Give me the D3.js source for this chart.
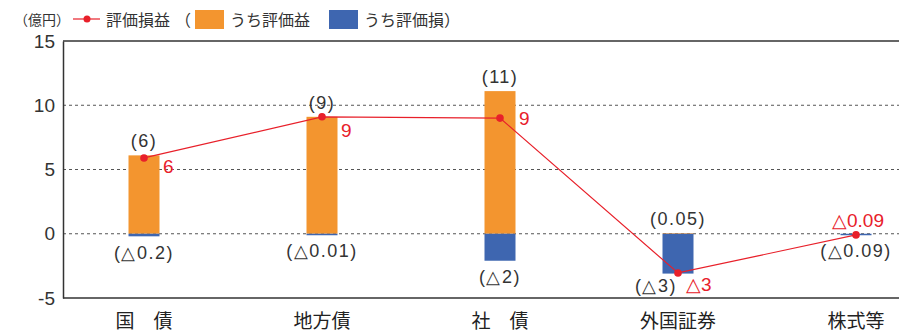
<!DOCTYPE html>
<html><head><meta charset="utf-8">
<script src="https://cdn.jsdelivr.net/npm/d3@7/dist/d3.min.js"></script>
<style>
body{margin:0;background:#fff;}
svg{display:block;font-family:"Noto Sans CJK JP","Noto Sans",sans-serif;}
</style></head>
<body><svg id="c" width="899" height="332"></svg>
<script>
const categories = ["国　債", "地方債", "社　債", "外国証券", "株式等"];
const gains  = [6.1, 9.1, 11.1, 0.05, 0];
const losses = [-0.2, -0.01, -2.1, -3.1, -0.09];
const nets   = [5.9, 9.1, 9.0, -3.05, -0.09];
const gainLabels = ["(6)", "(9)", "(11)", "(0.05)", ""];
const lossLabels = ["(△0.2)", "(△0.01)", "(△2)", "(△3)", "(△0.09)"];
const netLabels  = ["6", "9", "9", "△3", "△0.09"];
const yTicks = [-5, 0, 5, 10, 15];

(function () {
const svg = d3.select("#c");
const pL = 63, pR = 899, pT = 41, pB = 298;
const ORANGE = "#F3952F", BLUE = "#3E66B0", RED = "#E8202A", INK = "#333";

const y = d3.scaleLinear().domain([-5, 15]).range([pB, pT]);
const x = d3.scalePoint().domain(categories).range([144, 856]);
const bw = 31;

// gridlines
svg.append("g").selectAll("line").data(yTicks.filter(t => t > -5 && t < 15)).join("line")
  .attr("x1", pL).attr("x2", pR).attr("y1", d => y(d)).attr("y2", d => y(d))
  .attr("stroke", "#555").attr("stroke-width", 1).attr("stroke-dasharray", "3,3");
// top and bottom frame lines
svg.append("g").selectAll("line").data([15, -5]).join("line")
  .attr("x1", pL).attr("x2", pR).attr("y1", d => y(d)).attr("y2", d => y(d))
  .attr("stroke", INK).attr("stroke-width", 1.5);

// y axis
const yAxis = d3.axisLeft(y).tickValues(yTicks).tickSize(0).tickPadding(8).tickFormat(d => String(d));
const ga = svg.append("g").attr("transform", `translate(${pL},0)`).call(yAxis);
ga.select(".domain").attr("stroke", INK).attr("stroke-width", 1.5);
ga.selectAll("text").attr("font-family", "'Liberation Sans',Arial,sans-serif")
  .attr("font-size", 19).attr("fill", INK);

// bars
svg.append("g").selectAll("rect").data(categories).join("rect")
  .attr("x", d => x(d) - bw / 2).attr("width", bw)
  .attr("y", (d, i) => y(gains[i])).attr("height", (d, i) => y(0) - y(gains[i]))
  .attr("fill", ORANGE);
svg.append("g").selectAll("rect").data(categories).join("rect")
  .attr("x", d => x(d) - bw / 2).attr("width", bw)
  .attr("y", y(0)).attr("height", (d, i) => Math.max(1.5, y(losses[i]) - y(0)))
  .attr("fill", BLUE);

// net line
const line = d3.line().x((d, i) => x(categories[i])).y(d => y(d));
svg.append("path").datum(nets).attr("d", line).attr("fill", "none")
  .attr("stroke", RED).attr("stroke-width", 1.2);
svg.append("g").selectAll("circle").data(nets).join("circle")
  .attr("cx", (d, i) => x(categories[i])).attr("cy", d => y(d)).attr("r", 3.8).attr("fill", RED);

const numFont = "'Liberation Sans',Arial,sans-serif";
// gain labels
svg.append("g").selectAll("text").data(gainLabels).join("text")
  .attr("x", (d, i) => x(categories[i])).attr("y", (d, i) => y(gains[i]) - 8)
  .attr("text-anchor", "middle").attr("font-family", numFont).attr("font-size", 18)
  .attr("letter-spacing", 1.5).attr("fill", INK)
  .text(d => d);
// loss labels
const lossPlace = [[0, 23], [0, 23], [0, 22], [-22, 18], [0, 22]];
svg.append("g").selectAll("text").data(lossLabels).join("text")
  .attr("x", (d, i) => x(categories[i]) + lossPlace[i][0]).attr("y", (d, i) => y(losses[i]) + lossPlace[i][1])
  .attr("text-anchor", "middle").attr("font-family", numFont).attr("font-size", 18)
  .attr("letter-spacing", 1.5).attr("fill", INK)
  .text(d => d);
// net labels
const netPlace = [[19, 15, "start"], [19, 20, "start"], [19, 7, "start"], [8, 18, "start"], [2, -8, "middle"]];
svg.append("g").selectAll("text").data(netLabels).join("text")
  .attr("x", (d, i) => x(categories[i]) + netPlace[i][0]).attr("y", (d, i) => y(nets[i]) + netPlace[i][1])
  .attr("text-anchor", (d, i) => netPlace[i][2]).attr("font-family", numFont).attr("font-size", 19).attr("fill", RED)
  .text(d => d);

// x labels
svg.append("g").selectAll("text").data(categories).join("text")
  .attr("x", d => x(d)).attr("y", 328).attr("text-anchor", "middle")
  .attr("font-size", 19).attr("fill", "#222").text(d => d);

// legend
const lg = svg.append("g").attr("font-size", 16).attr("fill", INK);
lg.append("text").attr("x", 14).attr("y", 25).attr("font-size", 14).text("（億円）");
lg.append("line").attr("x1", 73).attr("x2", 100).attr("y1", 19).attr("y2", 19).attr("stroke", RED).attr("stroke-width", 1.2);
lg.append("circle").attr("cx", 87).attr("cy", 19).attr("r", 3.5).attr("fill", RED);
lg.append("text").attr("x", 106).attr("y", 26).text("評価損益");
lg.append("text").attr("x", 175).attr("y", 26).text("（");
lg.append("rect").attr("x", 195).attr("y", 10).attr("width", 29).attr("height", 19).attr("fill", ORANGE);
lg.append("text").attr("x", 230).attr("y", 26).text("うち評価益");
lg.append("rect").attr("x", 329).attr("y", 10).attr("width", 29).attr("height", 19).attr("fill", BLUE);
lg.append("text").attr("x", 364).attr("y", 26).text("うち評価損");
lg.append("text").attr("x", 444).attr("y", 26).text("）");
})();
</script></body></html>
